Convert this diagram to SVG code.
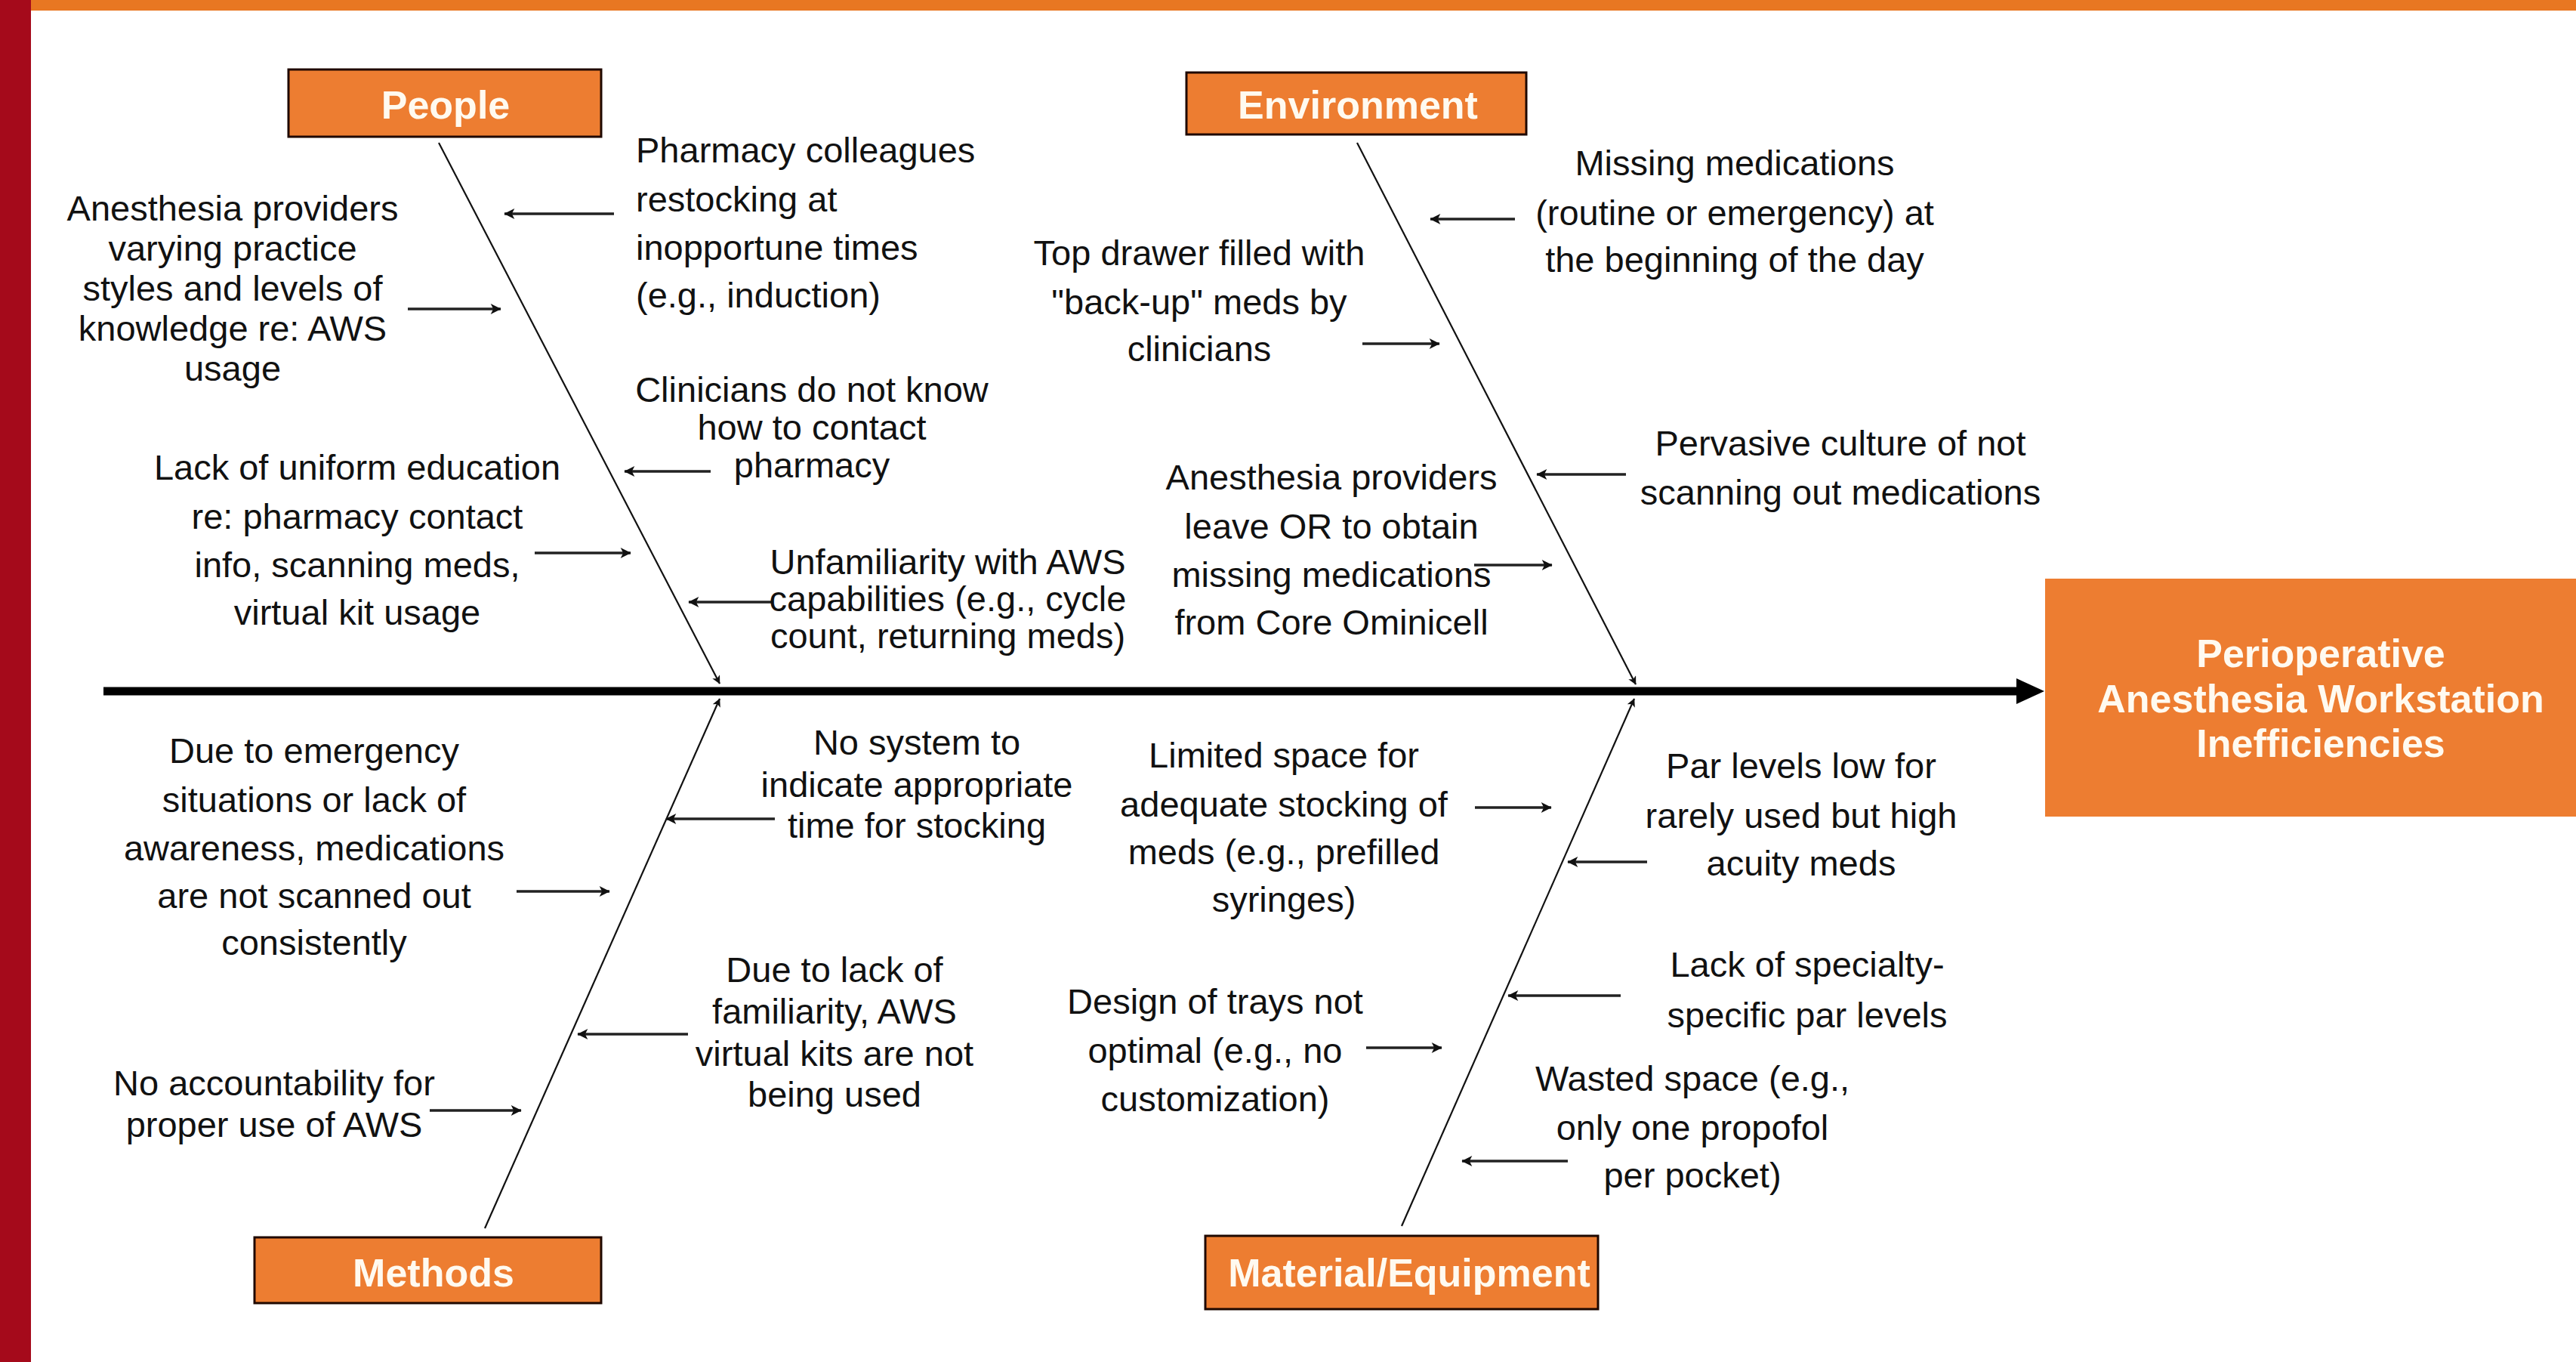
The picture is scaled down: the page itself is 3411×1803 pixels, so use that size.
<svg xmlns="http://www.w3.org/2000/svg" width="3411" height="1803" viewBox="0 0 3411 1803">
<style>
.t{font-family:"Liberation Sans",Arial,sans-serif;font-size:47px;fill:#111;text-anchor:middle}
.tl{text-anchor:start}
.cat rect{fill:#ED7D31;stroke:#1f0800;stroke-width:3}
.cat text,.eff text{font-family:"Liberation Sans",Arial,sans-serif;font-size:52px;font-weight:bold;fill:#fffaf0;text-anchor:middle}
.bone{stroke:#111;stroke-width:2.2;fill:none;marker-end:url(#ahb)}
.arr{stroke:#222;stroke-width:3.5;fill:none;marker-end:url(#ah)}
</style>
<defs>
<marker id="ah" viewBox="0 0 10 10" refX="9.5" refY="5" markerWidth="5.5" markerHeight="4" markerUnits="strokeWidth" orient="auto">
<path d="M0,0 L10,5 L0,10 L2.5,5 z" fill="#111"/>
</marker>
<marker id="ahb" viewBox="0 0 10 10" refX="9.5" refY="5" markerWidth="10" markerHeight="5" markerUnits="strokeWidth" orient="auto">
<path d="M0,0 L10,5 L0,10 L2.5,5 z" fill="#111"/>
</marker>
</defs>
<rect x="0" y="0" width="3411" height="1803" fill="#fff"/>
<rect x="0" y="0" width="41" height="1803" fill="#A50A1B"/>
<rect x="41" y="0" width="3370" height="14" fill="#E87722"/>

<g id="connectors">
<line x1="137" y1="915" x2="2676" y2="915" stroke="#000" stroke-width="11"/>
<polygon points="2670,898 2707,915 2670,932" fill="#000"/>
<line class="bone" x1="581" y1="189" x2="953" y2="905"/>
<line class="bone" x1="1797" y1="189" x2="2166" y2="906"/>
<line class="bone" x1="642" y1="1626" x2="953" y2="925"/>
<line class="bone" x1="1856" y1="1623" x2="2164" y2="925"/>
<line class="arr" x1="813" y1="283" x2="668" y2="283"/>
<line class="arr" x1="540" y1="409" x2="663" y2="409"/>
<line class="arr" x1="941" y1="624" x2="827" y2="624"/>
<line class="arr" x1="708" y1="732" x2="835" y2="732"/>
<line class="arr" x1="1021" y1="797" x2="912" y2="797"/>
<line class="arr" x1="684" y1="1180" x2="807" y2="1180"/>
<line class="arr" x1="1026" y1="1084" x2="882" y2="1084"/>
<line class="arr" x1="911" y1="1369" x2="765" y2="1369"/>
<line class="arr" x1="569" y1="1470" x2="690" y2="1470"/>
<line class="arr" x1="1804" y1="455" x2="1906" y2="455"/>
<line class="arr" x1="2006" y1="290" x2="1894" y2="290"/>
<line class="arr" x1="2153" y1="628" x2="2035" y2="628"/>
<line class="arr" x1="1952" y1="748" x2="2055" y2="748"/>
<line class="arr" x1="1953" y1="1069" x2="2054" y2="1069"/>
<line class="arr" x1="2181" y1="1141" x2="2076" y2="1141"/>
<line class="arr" x1="2146" y1="1318" x2="1997" y2="1318"/>
<line class="arr" x1="1809" y1="1387" x2="1909" y2="1387"/>
<line class="arr" x1="2076" y1="1537" x2="1936" y2="1537"/>
</g>

<g id="people" class="cat"><rect x="382" y="92" width="414" height="89"/><text x="590" y="157">People</text></g>
<g id="environment" class="cat"><rect x="1571" y="96" width="450" height="82"/><text x="1798" y="157">Environment</text></g>
<g id="methods" class="cat"><rect x="337" y="1638" width="459" height="87"/><text x="574" y="1703">Methods</text></g>
<g id="material" class="cat"><rect x="1596" y="1636" width="520" height="97"/><text x="1866" y="1703">Material/Equipment</text></g>

<g id="effect" class="eff">
<rect x="2708" y="766" width="703" height="315" fill="#ED7D31"/>
<text x="3073" y="883">Perioperative</text>
<text x="3073" y="943">Anesthesia Workstation</text>
<text x="3073" y="1002">Inefficiencies</text>
</g>

<g id="c-anesthesia-varying"><text class="t"><tspan x="308" y="292">Anesthesia providers</tspan><tspan x="308" y="345">varying practice</tspan><tspan x="308" y="398">styles and levels of</tspan><tspan x="308" y="451">knowledge re: AWS</tspan><tspan x="308" y="504">usage</tspan></text></g>
<g id="c-pharmacy-restocking"><text class="t tl"><tspan x="842" y="215">Pharmacy colleagues</tspan><tspan x="842" y="280">restocking at</tspan><tspan x="842" y="344">inopportune times</tspan><tspan x="842" y="407">(e.g., induction)</tspan></text></g>
<g id="c-clinicians-contact"><text class="t"><tspan x="1075" y="532">Clinicians do not know</tspan><tspan x="1075" y="582">how to contact</tspan><tspan x="1075" y="632">pharmacy</tspan></text></g>
<g id="c-lack-education"><text class="t"><tspan x="473" y="635">Lack of uniform education</tspan><tspan x="473" y="700">re: pharmacy contact</tspan><tspan x="473" y="764">info, scanning meds,</tspan><tspan x="473" y="827">virtual kit usage</tspan></text></g>
<g id="c-unfamiliarity"><text class="t"><tspan x="1255" y="760">Unfamiliarity with AWS</tspan><tspan x="1255" y="809">capabilities (e.g., cycle</tspan><tspan x="1255" y="858">count, returning meds)</tspan></text></g>
<g id="c-emergency"><text class="t"><tspan x="416" y="1010">Due to emergency</tspan><tspan x="416" y="1075">situations or lack of</tspan><tspan x="416" y="1139">awareness, medications</tspan><tspan x="416" y="1202">are not scanned out</tspan><tspan x="416" y="1264">consistently</tspan></text></g>
<g id="c-no-system"><text class="t"><tspan x="1214" y="999">No system to</tspan><tspan x="1214" y="1055">indicate appropriate</tspan><tspan x="1214" y="1109">time for stocking</tspan></text></g>
<g id="c-virtual-kits"><text class="t"><tspan x="1105" y="1300">Due to lack of</tspan><tspan x="1105" y="1355">familiarity, AWS</tspan><tspan x="1105" y="1411">virtual kits are not</tspan><tspan x="1105" y="1465">being used</tspan></text></g>
<g id="c-accountability"><text class="t"><tspan x="363" y="1450">No accountability for</tspan><tspan x="363" y="1505">proper use of AWS</tspan></text></g>
<g id="c-top-drawer"><text class="t"><tspan x="1588" y="351">Top drawer filled with</tspan><tspan x="1588" y="416">"back-up" meds by</tspan><tspan x="1588" y="478">clinicians</tspan></text></g>
<g id="c-missing-meds"><text class="t"><tspan x="2297" y="232">Missing medications</tspan><tspan x="2297" y="298">(routine or emergency) at</tspan><tspan x="2297" y="360">the beginning of the day</tspan></text></g>
<g id="c-pervasive"><text class="t"><tspan x="2437" y="603">Pervasive culture of not</tspan><tspan x="2437" y="668">scanning out medications</tspan></text></g>
<g id="c-leave-or"><text class="t"><tspan x="1763" y="648">Anesthesia providers</tspan><tspan x="1763" y="713">leave OR to obtain</tspan><tspan x="1763" y="777">missing medications</tspan><tspan x="1763" y="840">from Core Ominicell</tspan></text></g>
<g id="c-limited-space"><text class="t"><tspan x="1700" y="1016">Limited space for</tspan><tspan x="1700" y="1081">adequate stocking of</tspan><tspan x="1700" y="1144">meds (e.g., prefilled</tspan><tspan x="1700" y="1207">syringes)</tspan></text></g>
<g id="c-par-levels"><text class="t"><tspan x="2385" y="1030">Par levels low for</tspan><tspan x="2385" y="1096">rarely used but high</tspan><tspan x="2385" y="1159">acuity meds</tspan></text></g>
<g id="c-specialty"><text class="t"><tspan x="2393" y="1293">Lack of specialty-</tspan><tspan x="2393" y="1360">specific par levels</tspan></text></g>
<g id="c-trays"><text class="t"><tspan x="1609" y="1342">Design of trays not</tspan><tspan x="1609" y="1407">optimal (e.g., no</tspan><tspan x="1609" y="1471">customization)</tspan></text></g>
<g id="c-wasted"><text class="t"><tspan x="2241" y="1444">Wasted space (e.g.,</tspan><tspan x="2241" y="1509">only one propofol</tspan><tspan x="2241" y="1572">per pocket)</tspan></text></g>
</svg>
